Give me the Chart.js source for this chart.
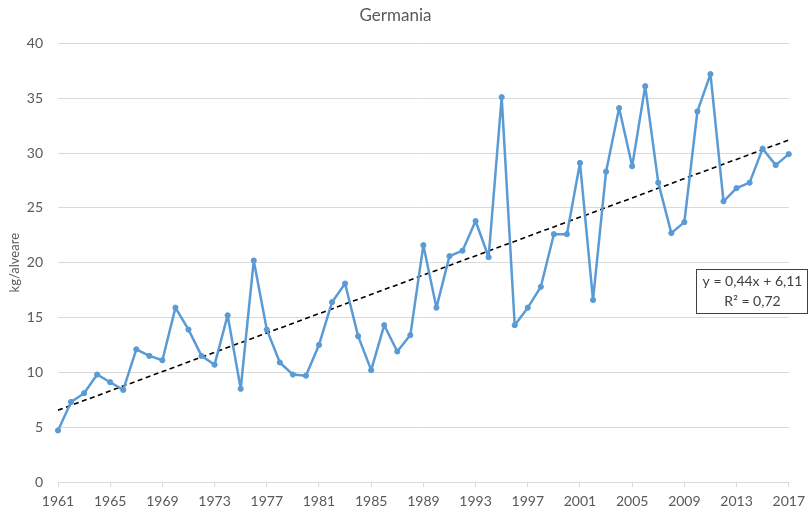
<!DOCTYPE html>
<html lang="it">
<head>
<meta charset="UTF-8" />
<title>Germania</title>
<script src="https://cdn.jsdelivr.net/npm/chart.js"></script>
<style>
  html, body { margin: 0; padding: 0; background: #fff; }
  #wrap { width: 811px; height: 514px; }
</style>
</head>
<body>
<div id="wrap"><canvas id="chart" width="811" height="514"></canvas></div>
<script>
// data
const years = [];
for (let y = 1961; y <= 2017; y++) years.push(y);

const yields = [
  4.7, 7.3, 8.1, 9.8, 9.1, 8.4, 12.1, 11.5, 11.1, 15.9,
  13.9, 11.5, 10.7, 15.2, 8.5, 20.2, 13.9, 10.9, 9.8, 9.7,
  12.5, 16.4, 18.1, 13.3, 10.2, 14.3, 11.9, 13.4, 21.6, 15.9,
  20.6, 21.1, 23.8, 20.5, 35.1, 14.3, 15.9, 17.8, 22.6, 22.6,
  29.1, 16.6, 28.3, 34.1, 28.8, 36.1, 27.3, 22.7, 23.7, 33.8,
  37.2, 25.6, 26.8, 27.3, 30.4, 28.9, 29.9
];

// trend line as printed on the chart (x = 1..57)
const trendSlope = 0.44;
const trendIntercept = 6.11;
const trendR2 = 0.72;

const yTicks = [0, 5, 10, 15, 20, 25, 30, 35, 40];

const textColor = '#595959';
const fontFamily = 'Lato, "Liberation Sans", sans-serif';

const fmt = v => v.toFixed(2).replace('.', ',');

const trendPoints = [
  { x: years[0], y: trendSlope * 1 + trendIntercept },
  { x: years[years.length - 1], y: trendSlope * years.length + trendIntercept }
];

const equationBox = {
  id: 'equationBox',
  afterDraw(chart) {
    const c = chart.ctx;
    const x = 696, y = 269, w = 111, h = 44;
    c.save();
    c.fillStyle = '#fff';
    c.fillRect(x, y, w, h);
    c.strokeStyle = '#404040';
    c.lineWidth = 1;
    c.strokeRect(x + 0.5, y + 0.5, w, h);
    c.fillStyle = '#404040';
    c.font = '14px ' + fontFamily;
    c.textAlign = 'center';
    c.textBaseline = 'middle';
    c.fillText('y = ' + fmt(trendSlope) + 'x + ' + fmt(trendIntercept), x + w / 2 + 1, y + 12);
    c.fillText('R² = ' + fmt(trendR2), x + w / 2 + 1, y + 32);
    c.restore();
  }
};

new Chart(document.getElementById('chart'), {
  type: 'line',
  data: {
    datasets: [
      {
        label: 'kg/alveare',
        data: years.map((yr, i) => ({ x: yr, y: yields[i] })),
        borderColor: '#5B9BD5',
        backgroundColor: '#5B9BD5',
        borderWidth: 2.5,
        borderJoinStyle: 'round',
        pointRadius: 2.6,
        pointBorderWidth: 1,
        tension: 0,
        clip: false
      },
      {
        label: 'trend',
        data: trendPoints,
        borderColor: '#000',
        borderWidth: 1.6,
        borderDash: [5, 3.5],
        pointRadius: 0,
        tension: 0
      }
    ]
  },
  options: {
    responsive: false,
    animation: false,
    layout: { padding: { left: 0, right: 20, top: 0, bottom: 0 } },
    plugins: {
      legend: { display: false },
      tooltip: { enabled: false },
      title: {
        display: true,
        text: 'Germania',
        color: textColor,
        font: { family: fontFamily, size: 17, weight: 'normal' },
        padding: { top: 5, bottom: 18 }
      }
    },
    scales: {
      x: {
        type: 'linear',
        min: 1961,
        max: 2017,
        ticks: {
          stepSize: 4,
          color: textColor,
          font: { family: fontFamily, size: 14 },
          padding: 6,
          maxRotation: 0,
          callback: v => String(v)
        },
        grid: {
          drawOnChartArea: false,
          drawTicks: true,
          tickLength: 5,
          color: '#d9d9d9'
        },
        border: { color: '#d9d9d9', width: 1 },
        afterFit: s => { s.height = 32; }
      },
      y: {
        min: 0,
        max: 40,
        afterBuildTicks: s => { s.ticks = yTicks.map(v => ({ value: v })); },
        ticks: {
          color: textColor,
          font: { family: fontFamily, size: 14 },
          padding: 15
        },
        grid: { color: '#d9d9d9', drawTicks: false },
        border: { display: false },
        title: {
          display: true,
          text: 'kg/alveare',
          color: textColor,
          font: { family: fontFamily, size: 13 },
          padding: { top: 7, bottom: 0 }
        },
        afterFit: s => { s.width = 58; }
      }
    }
  },
  plugins: [equationBox]
});
</script>
</body>
</html>
